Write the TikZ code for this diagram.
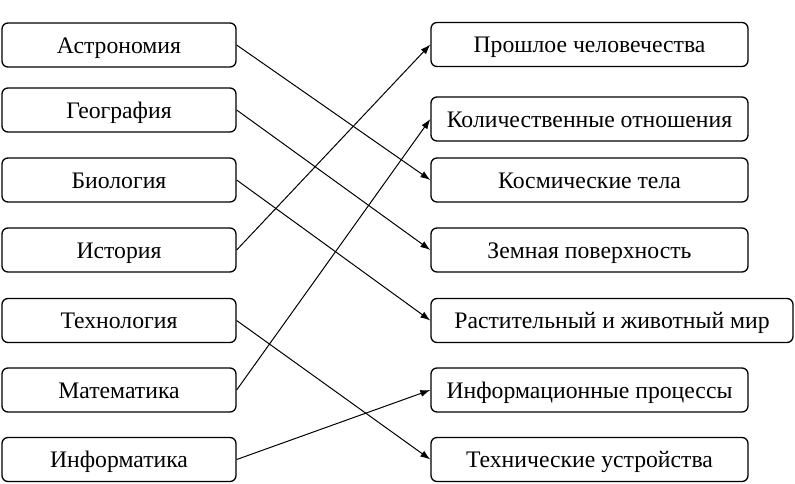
\documentclass[tikz,border=0pt]{standalone}
\usepackage{fontspec}
\setmainfont{Liberation Serif}
\usetikzlibrary{arrows.meta}
\begin{document}
\begin{tikzpicture}[x=1pt,y=-1pt,
  box/.style={draw, line width=1.3pt, rounded corners=6pt, minimum height=44pt, inner sep=0pt, text height=16pt, text depth=0pt, font=\fontsize{23.7}{28}\selectfont},
  lbox/.style={box, minimum width=234pt},
  rbox/.style={box, minimum width=317pt},
  conn/.style={line width=1pt, -{Latex[length=10pt,width=7pt]}}]
\useasboundingbox (0,0) rectangle (795,483);
\node[lbox] (l1) at (119,45) {Астрономия};
\node[lbox] (l2) at (119,110) {География};
\node[lbox] (l3) at (119,180) {Биология};
\node[lbox] (l4) at (119,250) {История};
\node[lbox] (l5) at (119,320.5) {Технология};
\node[lbox] (l6) at (119,390) {Математика};
\node[lbox] (l7) at (119,459.5) {Информатика};
\node[rbox] (r1) at (589.5,44.5) {Прошлое человечества};
\node[rbox] (r2) at (589.5,119) {Количественные отношения};
\node[rbox] (r3) at (589.5,180) {Космические тела};
\node[rbox] (r4) at (589.5,250) {Земная поверхность};
\node[box, minimum width=362pt] (r5) at (612,320.5) {Растительный и животный мир};
\node[rbox] (r6) at (589.5,390) {Информационные процессы};
\node[rbox] (r7) at (589.5,459.5) {Технические устройства};
\draw[conn] (l1.east) -- (r3.west);
\draw[conn] (l2.east) -- (r4.west);
\draw[conn] (l3.east) -- (r5.west);
\draw[conn] (l4.east) -- (r1.west);
\draw[conn] (l5.east) -- (r7.west);
\draw[conn] (l6.east) -- (r2.west);
\draw[conn] (l7.east) -- (r6.west);
\end{tikzpicture}
\end{document}
